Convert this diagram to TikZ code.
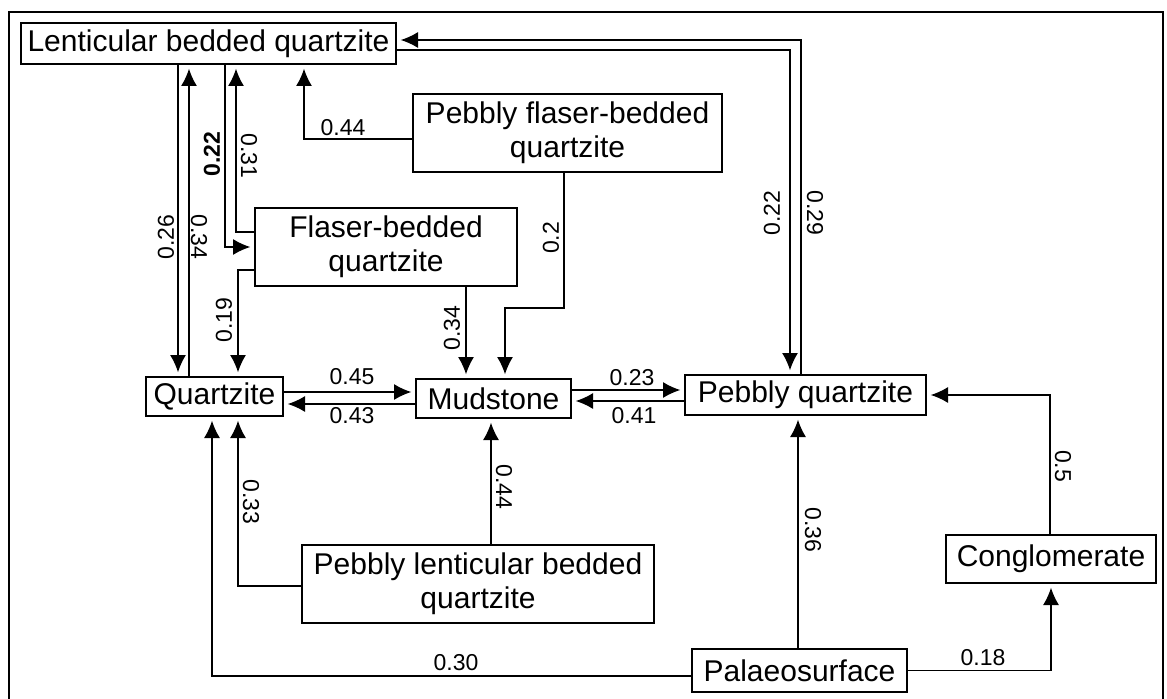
\documentclass[tikz,border=0pt]{standalone}
\usepackage{fontspec}
\setmainfont{Liberation Sans}
\usetikzlibrary{arrows.meta}
\begin{document}
\begin{tikzpicture}[x=0.75pt,y=-0.75pt,
  box/.style={draw, line width=1pt, inner sep=0pt, align=center, font=\fontsize{22.5}{25.5}\selectfont},
  wh/.style 2 args={minimum width=#1*0.75pt, minimum height=#2*0.75pt},
  lbl/.style={inner sep=0pt, font=\fontsize{17.25}{20}\selectfont},
  conn/.style={line width=1.1pt, -{Latex[length=13pt,width=12pt]}, shorten >=3pt}]
\useasboundingbox (0,0) rectangle (1167,699);
\draw[line width=2pt] (9,699) -- (9,12) -- (1163,12) -- (1163,699);

% boxes
\node[box, wh={375}{41}] (lbq) at (208.5,43.5) {Lenticular bedded quartzite};
\node[box, wh={309}{78}] (pfq) at (567.5,133) {Pebbly flaser-bedded\\quartzite};
\node[box, wh={262}{78}] (fbq) at (386,247) {Flaser-bedded\\quartzite};
\node[box, wh={137}{39}] (qtz) at (214.5,396.5) {Quartzite};
\node[box, wh={155}{39}] (mud) at (493.5,398.5) {Mudstone};
\node[box, wh={241}{40}] (pq) at (805.5,395) {Pebbly quartzite};
\node[box, wh={352}{78}] (plq) at (478,584) {Pebbly lenticular bedded\\quartzite};
\node[box, wh={210}{48}] (con) at (1051,559) {Conglomerate};
\node[box, wh={215}{43}] (pal) at (799.5,670.5) {Palaeosurface};

% lanes
\coordinate (L178) at (178,0);
\coordinate (L189) at (189,0);
\coordinate (L212) at (212,0);
\coordinate (L225) at (225,0);
\coordinate (L236) at (236,0);
\coordinate (L238) at (238,0);
\coordinate (L304) at (304,0);
\coordinate (L466) at (466,0);
\coordinate (L491) at (491,0);
\coordinate (L505) at (505,0);
\coordinate (L564) at (564,0);
\coordinate (L790) at (790,0);
\coordinate (L798) at (798,0);
\coordinate (L801) at (801,0);
\coordinate (L1050) at (1050,0);
\coordinate (Y40) at (0,40);
\coordinate (Y50) at (0,50);
\coordinate (Y139) at (0,139);
\coordinate (Y232) at (0,232);
\coordinate (Y270) at (0,270);
\coordinate (Y308) at (0,308);
\coordinate (Y390) at (0,390);
\coordinate (Y392) at (0,392);
\coordinate (Y401) at (0,401);
\coordinate (Y404) at (0,404);
\coordinate (Y586) at (0,586);
\coordinate (Y676) at (0,676);

% connectors
\draw[conn] (lbq.south -| L178) -- (qtz.north -| L178);
\draw[conn] (qtz.north -| L189) -- (lbq.south -| L189);
\draw[conn] (lbq.south -| L225) |- (fbq.west);
\draw[conn] (fbq.west |- Y232) -| (lbq.south -| L236);
\draw[conn] (fbq.west |- Y270) -| (qtz.north -| L238);
\draw[conn] (pfq.west |- Y139) -| (lbq.south -| L304);
\draw[conn] (pfq.south -| L564) -- (L564 |- Y308) -- (L505 |- Y308) -- (mud.north -| L505);
\draw[conn] (fbq.south -| L466) -- (mud.north -| L466);
\draw[conn] (qtz.east |- Y392) -- (mud.west |- Y392);
\draw[conn] (mud.west |- Y404) -- (qtz.east |- Y404);
\draw[conn] (mud.east |- Y390) -- (pq.west |- Y390);
\draw[conn] (pq.west |- Y401) -- (mud.east |- Y401);
\draw[conn] (lbq.east |- Y50) -| (pq.north -| L790);
\draw[conn] (pq.north -| L801) |- (lbq.east |- Y40);
\draw[conn] (plq.west |- Y586) -| (qtz.south -| L238);
\draw[conn] (pal.west |- Y676) -| (qtz.south -| L212);
\draw[conn] (plq.north -| L491) -- (mud.south -| L491);
\draw[conn] (pal.north -| L798) -- (pq.south -| L798);
\draw[conn] (con.north -| L1050) |- (pq.east);
\draw[conn] (pal.east) -| (con.south);

% labels
\node[lbl, rotate=90] (t026) at (166,237) {0.26};
\node[lbl, rotate=-90] (t034a) at (199,237) {0.34};
\node[lbl, rotate=90, font=\fontsize{17.25}{20}\selectfont\bfseries] (t022a) at (212,154) {0.22};
\node[lbl, rotate=-90] (t031) at (249,156) {0.31};
\node[lbl] (t044a) at (343,128) {0.44};
\node[lbl, rotate=90] (t019) at (224,320) {0.19};
\node[lbl, rotate=90] (t02) at (551,238) {0.2};
\node[lbl, rotate=90] (t034b) at (452,328) {0.34};
\node[lbl, rotate=90] (t022b) at (772,213) {0.22};
\node[lbl, rotate=-90] (t029) at (815,213) {0.29};
\node[lbl] (t045) at (352,377) {0.45};
\node[lbl] (t043) at (352,416) {0.43};
\node[lbl] (t023) at (632,378) {0.23};
\node[lbl] (t041) at (634,416) {0.41};
\node[lbl, rotate=-90] (t033) at (251,502) {0.33};
\node[lbl, rotate=-90] (t044b) at (504,487) {0.44};
\node[lbl, rotate=-90] (t036) at (813,530) {0.36};
\node[lbl, rotate=-90] (t05) at (1063,466) {0.5};
\node[lbl] (t030) at (456,663) {0.30};
\node[lbl] (t018) at (983,658) {0.18};
\end{tikzpicture}
\end{document}
